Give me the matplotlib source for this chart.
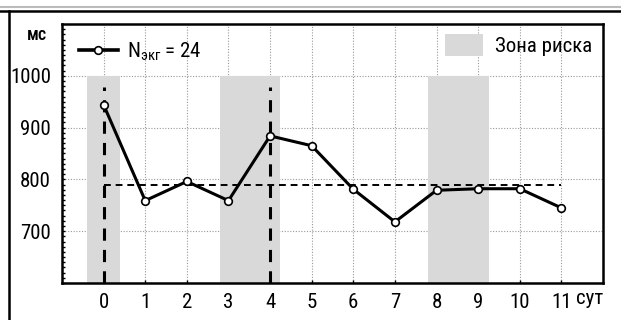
import matplotlib
matplotlib.use("Agg")
import matplotlib.pyplot as plt
from matplotlib import font_manager
from matplotlib.lines import Line2D
from matplotlib.patches import Patch

# narrow font, falls back if missing
names = {f.name for f in font_manager.fontManager.ttflist}
font = "Roboto Condensed" if "Roboto Condensed" in names else "Liberation Sans"
plt.rcParams["font.family"] = [font, "DejaVu Sans"]
plt.rcParams["mathtext.fontset"] = "custom"
plt.rcParams["mathtext.rm"] = font
plt.rcParams["mathtext.it"] = font

# data
days = [0, 1, 2, 3, 4, 5, 6, 7, 8, 9, 10, 11]
rr_ms = [944, 759, 796, 759, 884, 865, 781, 718, 779, 782, 782, 745]
mean_level = 790
event_days = [0, 4]
risk_start = [-0.4, 2.8, 7.8]
risk_end = [0.4, 4.25, 9.25]
risk_top = 1000
y_ticks = [700, 800, 900, 1000]
n_ecg = 24

fig = plt.figure(figsize=(6.21, 3.20), dpi=100)
ax = fig.add_axes([62 / 621, 37 / 320, 541 / 621, 259 / 320])

ax.set_xlim(-1, 12)
ax.set_ylim(600, 1100)

ax.grid(True, color="#999999", linestyle=(0, (1, 1.5)), linewidth=0.8)
ax.set_axisbelow(True)

for s, e in zip(risk_start, risk_end):
    ax.fill_between([s, e], 600, risk_top, color="#d9d9d9", linewidth=0, zorder=1)

for d in event_days:
    ax.plot([d, d], [600, 978], color="black", linestyle=(0, (4, 3)), linewidth=2.2, zorder=2)

ax.plot([days[0], days[-1]], [mean_level, mean_level], color="black",
        linestyle=(0, (3.5, 2.5)), linewidth=1.4, zorder=2)

ax.plot(days, rr_ms, color="black", linewidth=2.2, marker="o", markersize=5.5,
        markerfacecolor="white", markeredgecolor="black", markeredgewidth=1.2, zorder=3)

ax.set_xticks(days)
ax.set_yticks(y_ticks)
ax.set_yticks(range(600, 1100, 10), minor=True)
ax.tick_params(axis="both", labelsize=15, direction="in", length=2, width=1)
ax.tick_params(axis="y", which="minor", direction="in", length=2, width=1)
ax.tick_params(axis="x", pad=7)
ax.tick_params(axis="y", pad=8)
for sp in ax.spines.values():
    sp.set_linewidth(1.8)

ax.text(-0.046, 0.957, "мс", transform=ax.transAxes, fontsize=13, fontweight="medium",
        ha="center", va="center")
ax.text(11.35, 570, "сут", fontsize=15, ha="left", va="center", clip_on=False)

h1 = Line2D([], [], color="black", linewidth=2.6, marker="o", markersize=5.5,
            markerfacecolor="white", markeredgecolor="black", markeredgewidth=1.2)
leg1 = ax.legend([h1], ["N$_{\\mathrm{экг}}$ = %d" % n_ecg], loc="upper left", frameon=False,
                 fontsize=15, handlelength=1.9, handletextpad=0.4, borderaxespad=0.6,
                 borderpad=0.2)
ax.add_artist(leg1)
h2 = Patch(facecolor="#d9d9d9", edgecolor="none")
ax.legend([h2], ["Зона риска"], loc="upper right", frameon=False, fontsize=15,
          handlelength=1.8, handleheight=1.2, handletextpad=0.6, borderaxespad=0.2,
          borderpad=0.3)

# page frame lines around the figure
fig.add_artist(Line2D([0, 1], [1 - 7 / 320, 1 - 7 / 320], color="#bbbbbb", linewidth=1.5))
fig.add_artist(Line2D([0, 1], [1 - 10.5 / 320, 1 - 10.5 / 320], color="black", linewidth=1.8))
fig.add_artist(Line2D([8.5 / 621, 8.5 / 621], [0, 1 - 10.5 / 320], color="black", linewidth=1.8))

fig.savefig("out.png", dpi=100)
